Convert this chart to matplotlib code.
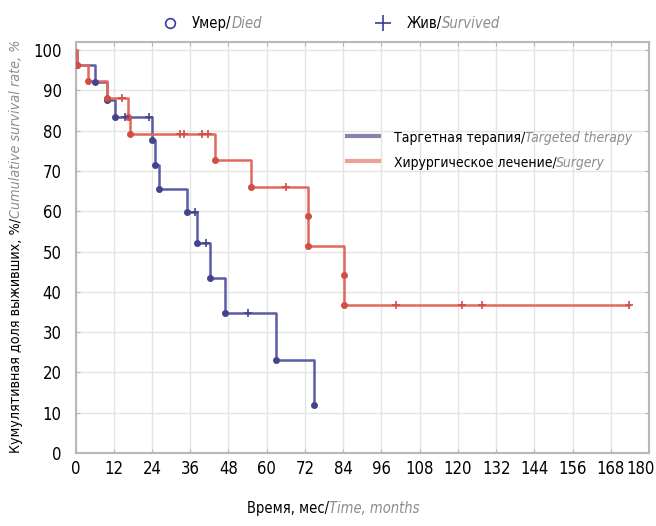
import matplotlib
matplotlib.use('Agg')
import matplotlib.pyplot as plt
from matplotlib import font_manager
from matplotlib import transforms
from matplotlib.lines import Line2D
import numpy as np

# Kaplan-Meier steps (months, % surviving)
targeted_time = [0, 0.5, 6, 10, 12.4, 24, 25, 26.2, 35, 38, 42.2, 47, 63, 75]
targeted_surv = [100, 96.2, 92.0, 87.5, 83.3, 77.6, 71.4, 65.5, 59.8, 52.1, 43.4, 34.7, 23.2, 11.8]
targeted_censored = [15.5, 23, 37.5, 41, 54.2]

surgery_time = [0, 0.5, 3.8, 10, 16.5, 17.2, 43.7, 55, 73, 73, 84.2, 84.2]
surgery_surv = [100, 96.2, 92.4, 88.0, 83.4, 79.1, 72.7, 66.0, 58.8, 51.4, 44.2, 36.8]
surgery_censored = [14.5, 32.7, 34, 39.8, 41.5, 66, 100.7, 121.3, 127.6, 173.8]
surgery_end = 173.8

x_ticks = list(range(0, 181, 12))
y_ticks = list(range(0, 101, 10))

BLUE = '#5b5ba6'
BLUE_DARK = '#44448e'
RED = '#e2685c'
RED_DARK = '#cf4f45'
GRAY_TXT = '#8c8c8c'

# pick a narrow font if there is one, the original uses a condensed face
names = {f.name for f in font_manager.fontManager.ttflist}
if 'Liberation Sans Narrow' in names:
    FONT = 'Liberation Sans Narrow'
    STRETCH = 'normal'
else:
    FONT = 'DejaVu Sans'
    STRETCH = 'condensed'
plt.rcParams['font.family'] = [FONT, 'DejaVu Sans']
plt.rcParams['font.stretch'] = STRETCH
FS = 12


def value_at(times, values, t):
    i = np.searchsorted(times, t, side='right') - 1
    return values[i]


def mixed_text(fig, x, y, plain, italic, rotation=0, size=FS):
    """Black upright part followed by a grey italic part."""
    t1 = fig.text(x, y, plain, fontsize=size, color='black',
                  rotation=rotation, ha='left', va='bottom')
    if rotation == 90:
        t2 = plt.annotate(italic, xy=(0, 1), xycoords=t1, fontsize=size,
                          color=GRAY_TXT, style='italic', rotation=90,
                          ha='left', va='bottom', annotation_clip=False)
    else:
        t2 = plt.annotate(italic, xy=(1, 0), xycoords=t1, fontsize=size,
                          color=GRAY_TXT, style='italic',
                          ha='left', va='bottom', annotation_clip=False)
    return [t1, t2]


def fit_length(fig, parts, target_px, vertical=False, others=()):
    """Rescale font so the joined pieces span target_px, like the original."""
    fig.canvas.draw()
    r = fig.canvas.get_renderer()
    bbs = [p.get_window_extent(r) for p in parts]
    if vertical:
        length = max(b.y1 for b in bbs) - min(b.y0 for b in bbs)
    else:
        length = max(b.x1 for b in bbs) - min(b.x0 for b in bbs)
    k = target_px / length
    for p in list(parts) + list(others):
        p.set_fontsize(p.get_fontsize() * k)


W, H = 656, 526
fig = plt.figure(figsize=(W / 100, H / 100), dpi=100)
ax = fig.add_axes([75.5 / W, 1 - 453 / H, (649 - 75.5) / W, (453 - 42) / H])

# survival curves
ax.step(targeted_time, targeted_surv, where='post', color=BLUE, lw=1.8, zorder=3)
ax.step(surgery_time + [surgery_end], surgery_surv + [surgery_surv[-1]],
        where='post', color=RED, lw=1.8, zorder=3)

# deaths (circles) and censored (crosses)
ax.plot(targeted_time[1:], targeted_surv[1:], 'o', ms=4, mfc=BLUE_DARK,
        mec=BLUE_DARK, zorder=4)
ax.plot(surgery_time[1:], surgery_surv[1:], 'o', ms=4, mfc=RED_DARK,
        mec=RED_DARK, zorder=4)
ax.plot(targeted_censored,
        [value_at(targeted_time, targeted_surv, t) for t in targeted_censored],
        '+', ms=6, mew=1.2, color=BLUE_DARK, zorder=4)
ax.plot(surgery_censored,
        [value_at(surgery_time, surgery_surv, t) for t in surgery_censored],
        '+', ms=6, mew=1.2, color=RED_DARK, zorder=4)

ax.set_xlim(0, 180)
ax.set_ylim(0, 102)
ax.set_xticks(x_ticks)
ax.set_yticks(y_ticks)
ax.tick_params(direction='in', length=3, color='#b5b5b5', labelsize=FS,
               top=True, right=True)
ax.tick_params(axis='y', pad=10)
ax.tick_params(axis='x', pad=5)
ax.grid(True, color='#e4e4e4', lw=1.0)
ax.set_axisbelow(True)
for sp in ax.spines.values():
    sp.set_color('#b8b8b8')
    sp.set_linewidth(1.5)

# last x label sits inside the figure in the original
last = ax.get_xticklabels()[-1]
last.set_transform(last.get_transform() +
                   transforms.ScaledTranslation(-9 / 100, 0, fig.dpi_scale_trans))

# legend inside the axes
handles = [Line2D([], [], color='#8585b0', lw=3),
           Line2D([], [], color='#eea096', lw=3)]
leg = ax.legend(handles, ['Таргетная терапия/', 'Хирургическое лечение/'],
                loc='upper left', bbox_to_anchor=((347 - 75.5) / 573.5, (453 - 130) / 411),
                frameon=False, borderpad=0, borderaxespad=0, handlelength=1.9,
                handletextpad=0.9, labelspacing=0.65, fontsize=FS)
leg_parts = []
for txt, it in zip(leg.get_texts(), ['Targeted therapy', 'Surgery']):
    a = ax.annotate(it, xy=(1, 0), xycoords=txt, fontsize=FS, color=GRAY_TXT,
                    style='italic', ha='left', va='bottom',
                    annotation_clip=False, zorder=10)
    leg_parts.append(a)
leg_texts = leg.get_texts()

# marker key above the plot
fig.add_artist(Line2D([170 / W], [1 - 23 / H], marker='o', ms=7, mfc='none',
                      mec='#3a3aa0', mew=1.2, ls='none'))
fig.add_artist(Line2D([383 / W], [1 - 23 / H], marker='+', ms=12,
                      color='#3a3aa0', mew=1.2, ls='none'))
died = mixed_text(fig, 192 / W, 1 - 31 / H, 'Умер/', 'Died')
alive = mixed_text(fig, 407 / W, 1 - 31 / H, 'Жив/', 'Survived')

# axis titles
xlab = mixed_text(fig, 247 / W, 1 - 516 / H, 'Время, мес/', 'Time, months')
ylab = mixed_text(fig, 9 / W, 1 - 453 / H, 'Кумулятивная доля выживших, %/',
                  'Cumulative survival rate, %', rotation=90)

# match text lengths measured on the original
fit_length(fig, ylab, 412, vertical=True)
fit_length(fig, xlab, 172)
fit_length(fig, alive, 93, others=died)
fit_length(fig, [leg_texts[0], leg_parts[0]], 238, others=[leg_texts[1], leg_parts[1]])

fig.savefig('out.png', dpi=100)
